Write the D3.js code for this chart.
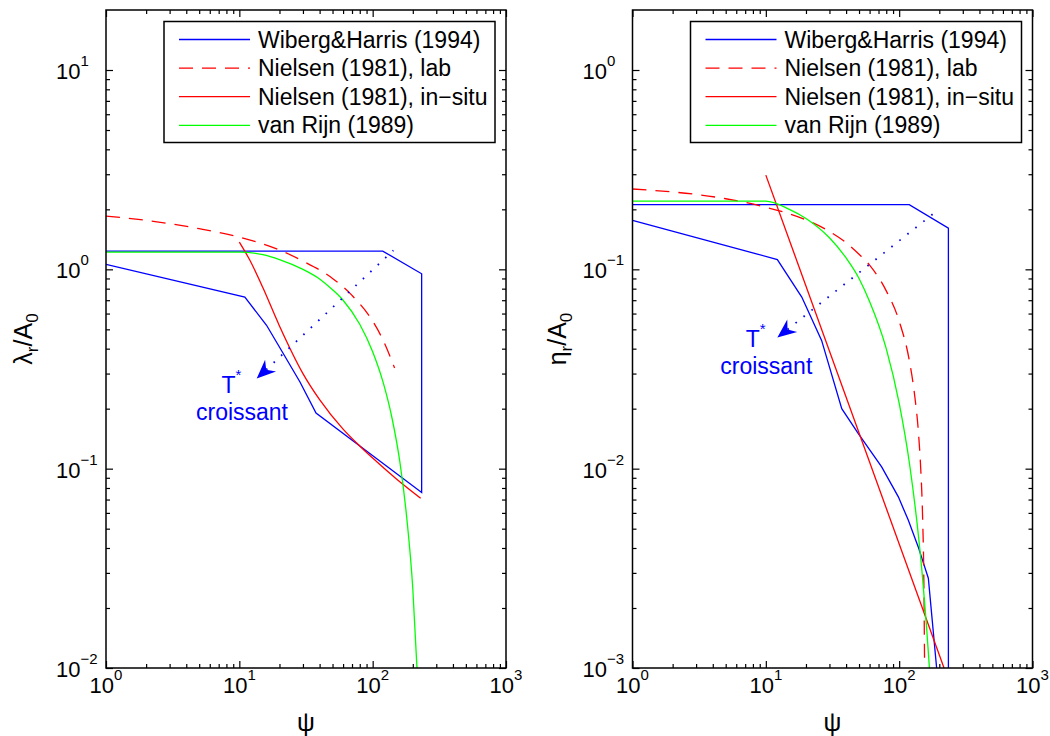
<!DOCTYPE html>
<html>
<head>
<meta charset="utf-8">
<script src="https://cdn.jsdelivr.net/npm/d3@7"></script>
<style>
  body { margin: 0; background: #fff; }
  text { font-family: "Liberation Sans", Arial, Helvetica, sans-serif; fill: #000; }
  .tick text { display: none; }
  .domain { display: none; }
</style>
</head>
<body>
<svg id="fig" width="1050" height="736"></svg>
<script>
// ---- data ----
const seriesNames = ["Wiberg&Harris (1994)", "Nielsen (1981), lab", "Nielsen (1981), in\u2212situ", "van Rijn (1989)"];
const seriesColors = ["#0000ff", "#ff0000", "#ff0000", "#00ff00"];
const seriesDash = [null, "14,9", null, null];

const xDomain = [1, 1000];
const xTickExponents = [0, 1, 2, 3];
const lambdaDomain = [0.01, 20];
const lambdaTickExponents = [-2, -1, 0, 1];
const etaDomain = [0.001, 2];
const etaTickExponents = [-3, -2, -1, 0];

// ripple length  lambda_r / A_0
const whLambdaPsi = [1, 11, 16, 21.4, 28.5, 37.6, 233, 233, 119, 1];
const whLambda    = [1.06, 0.726, 0.524, 0.377, 0.272, 0.19, 0.076, 0.95, 1.235, 1.235];
const nlLambdaPsi = [1, 2, 5, 10, 20, 30, 50, 70, 100, 120, 146];
const nlLambda    = [1.85, 1.76, 1.60, 1.45, 1.25, 1.10, 0.90, 0.74, 0.55, 0.44, 0.32];
const nfLambdaPsi = [10, 12, 15, 20, 30, 40, 60, 80, 100, 150, 229];
const nfLambda    = [1.37, 1.11, 0.81, 0.52, 0.30, 0.222, 0.158, 0.13, 0.113, 0.089, 0.071];
const vrLambdaPsi = [1, 10, 15, 20, 30, 40, 50, 60, 80, 100, 120, 140, 160, 180, 200, 216];
const vrLambda    = [1.22, 1.22, 1.185, 1.12, 1.0, 0.895, 0.79, 0.70, 0.53, 0.386, 0.27, 0.178, 0.108, 0.057, 0.025, 0.0094];

// ripple height  eta_r / A_0   (null = pen up)
const whEtaPsi = [1, 12.2, 18.6, 26.2, 37.1, 49.4, 73.9, 98.6, 117, 139, 165.5, 191, null, 1, 119, 234, 234];
const whEta    = [0.176, 0.112, 0.0726, 0.044, 0.020, 0.015, 0.0102, 0.00722, 0.00552, 0.00405, 0.00282, 0.001, null, 0.211, 0.211, 0.161, 0.001];
const nlEtaPsi = [1, 5, 10, 20, 30, 40, 50, 60, 80, 100, 120, 130, 140, 145, 150, 153, 155];
const nlEta    = [0.253, 0.226, 0.205, 0.177, 0.155, 0.136, 0.119, 0.105, 0.078, 0.055, 0.034, 0.024, 0.0147, 0.0101, 0.0056, 0.0029, 0.0011];
const nfEtaPsi = [10, 217];
const nfEta    = [0.297, 0.001];
const vrEtaPsi = [1, 10, 15, 20, 30, 40, 50, 60, 80, 100, 120, 140, 150, 160, 169];
const vrEta    = [0.22, 0.22, 0.20, 0.18, 0.144, 0.114, 0.090, 0.069, 0.040, 0.0213, 0.0104, 0.0045, 0.0028, 0.00165, 0.00098];

// "T* croissant" arrow: tip, end of dotted line, label centre
const lambdaArrow = { tip: [13.5, 0.283], end: [143, 1.245], label: [10.47, 0.175] };
const etaArrow    = { tip: [12.2, 0.0455], end: [191, 0.196], label: [10.08, 0.030] };

// ---- layout ----
const svg = d3.select("#fig");
svg.append("rect").attr("width", 1050).attr("height", 736).attr("fill", "#fff");
const plotTop = 10, plotBottom = 668, plotWidth = 400;
const zip = (a, b) => a.map((v, i) => [v, b[i]]);

const panels = [
  {
    id: "l", left: 106, yDomain: lambdaDomain, yExp: lambdaTickExponents,
    yLabel: ["\u03bb", "r", "/A", "0"], yLabelX: 32, arrow: lambdaArrow,
    series: [zip(whLambdaPsi, whLambda), zip(nlLambdaPsi, nlLambda), zip(nfLambdaPsi, nfLambda), zip(vrLambdaPsi, vrLambda)]
  },
  {
    id: "r", left: 632.5, yDomain: etaDomain, yExp: etaTickExponents,
    yLabel: ["\u03b7", "r", "/A", "0"], yLabelX: 566, arrow: etaArrow,
    series: [zip(whEtaPsi, whEta), zip(nlEtaPsi, nlEta), zip(nfEtaPsi, nfEta), zip(vrEtaPsi, vrEta)]
  }
];

function minorTicks(domain) {
  const out = [];
  const e0 = Math.floor(Math.log10(domain[0])), e1 = Math.ceil(Math.log10(domain[1]));
  for (let e = e0; e <= e1; e++)
    for (let k = 2; k <= 9; k++) {
      const v = k * Math.pow(10, e);
      if (v > domain[0] && v < domain[1]) out.push(v);
    }
  return out;
}

function expLabel(sel, e) {
  sel.append("tspan").text("10");
  sel.append("tspan").attr("dy", -13).attr("font-size", 15).text(String(e).replace("-", "\u2212"));
}

panels.forEach(p => {
  const x = d3.scaleLog().domain(xDomain).range([p.left, p.left + plotWidth]);
  const y = d3.scaleLog().domain(p.yDomain).range([plotBottom, plotTop]);
  const g = svg.append("g");

  const clipId = "clip-" + p.id;
  svg.append("clipPath").attr("id", clipId).append("rect")
    .attr("x", p.left).attr("y", plotTop).attr("width", plotWidth).attr("height", plotBottom - plotTop);

  // ticks, inside on all four sides
  const xMajor = xTickExponents.map(e => Math.pow(10, e));
  const yMajor = p.yExp.map(e => Math.pow(10, e));
  const xMinor = minorTicks(xDomain), yMinor = minorTicks(p.yDomain);
  const axes = [
    [d3.axisBottom(x), `translate(0,${plotBottom})`, xMajor, xMinor],
    [d3.axisTop(x), `translate(0,${plotTop})`, xMajor, xMinor],
    [d3.axisLeft(y), `translate(${p.left},0)`, yMajor, yMinor],
    [d3.axisRight(y), `translate(${p.left + plotWidth},0)`, yMajor, yMinor]
  ];
  axes.forEach(([ax, tr, maj, min]) => {
    g.append("g").attr("transform", tr).call(ax.tickValues(maj).tickSize(-7).tickFormat(""))
      .selectAll("line").attr("stroke-width", 1.2);
    g.append("g").attr("transform", tr).call(ax.tickValues(min).tickSize(-4).tickFormat(""))
      .selectAll("line").attr("stroke-width", 1.2);
  });

  // curves
  const curves = g.append("g").attr("clip-path", `url(#${clipId})`);
  p.series.forEach((pts, i) => {
    const line = d3.line()
      .defined(d => d[0] != null)
      .x(d => x(d[0])).y(d => y(d[1]))
      .curve(i === 0 || pts.length < 3 ? d3.curveLinear : d3.curveMonotoneX);
    curves.append("path").attr("d", line(pts))
      .attr("fill", "none").attr("stroke", seriesColors[i]).attr("stroke-width", 1.3)
      .attr("stroke-dasharray", seriesDash[i]);
  });

  // dotted arrow + annotation
  const a = p.arrow;
  const tip = [x(a.tip[0]), y(a.tip[1])], end = [x(a.end[0]), y(a.end[1])];
  const len = Math.hypot(end[0] - tip[0], end[1] - tip[1]);
  const u = [(end[0] - tip[0]) / len, (end[1] - tip[1]) / len], n = [-u[1], u[0]];
  const L = 19, Wd = 8, N = 13;
  curves.append("line")
    .attr("x1", tip[0] + u[0] * N).attr("y1", tip[1] + u[1] * N)
    .attr("x2", end[0]).attr("y2", end[1])
    .attr("stroke", "#0000ff").attr("stroke-width", 1.8).attr("stroke-dasharray", "1.6,8.6");
  const head = [
    tip,
    [tip[0] + u[0] * L + n[0] * Wd, tip[1] + u[1] * L + n[1] * Wd],
    [tip[0] + u[0] * N, tip[1] + u[1] * N],
    [tip[0] + u[0] * L - n[0] * Wd, tip[1] + u[1] * L - n[1] * Wd]
  ];
  g.append("path").attr("d", "M" + head.join("L") + "Z").attr("fill", "#0000ff");
  const lx = x(a.label[0]), ly = y(a.label[1]);
  const tt = g.append("text").attr("x", lx - 20.5).attr("y", ly - 27).attr("font-size", 23).style("fill", "#0000ff");
  tt.append("tspan").text("T");
  tt.append("tspan").attr("dy", -13).attr("font-size", 15).text("*");
  g.append("text").attr("x", lx).attr("y", ly).attr("text-anchor", "middle")
    .attr("font-size", 23).style("fill", "#0000ff").text("croissant");

  // box
  g.append("rect").attr("x", p.left).attr("y", plotTop).attr("width", plotWidth).attr("height", plotBottom - plotTop)
    .attr("fill", "none").attr("stroke", "#000").attr("stroke-width", 1.5);

  // tick labels
  xTickExponents.forEach(e => {
    g.append("text").attr("x", x(Math.pow(10, e))).attr("y", 693).attr("text-anchor", "middle")
      .attr("font-size", 22).call(expLabel, e);
  });
  p.yExp.forEach(e => {
    const t = g.append("text").attr("x", p.left - 50).attr("y", y(Math.pow(10, e)) + 9).attr("font-size", 22);
    expLabel(t, e);
  });

  // axis labels
  g.append("text").attr("x", p.left + plotWidth / 2).attr("y", 731).attr("text-anchor", "middle")
    .attr("font-size", 25).text("\u03c8");
  const yl = g.append("text").attr("transform", `translate(${p.yLabelX},${(plotTop + plotBottom) / 2}) rotate(-90)`)
    .attr("text-anchor", "middle").attr("font-size", 25);
  yl.append("tspan").text(p.yLabel[0]);
  yl.append("tspan").attr("dy", 6).attr("font-size", 17).text(p.yLabel[1]);
  yl.append("tspan").attr("dy", -6).text(p.yLabel[2]);
  yl.append("tspan").attr("dy", 6).attr("font-size", 17).text(p.yLabel[3]);

  // legend
  const bx = p.left + plotWidth - 11 - 331, by = 21.5;
  const lg = g.append("g");
  lg.append("rect").attr("x", bx).attr("y", by).attr("width", 331).attr("height", 121)
    .attr("fill", "#fff").attr("stroke", "#000").attr("stroke-width", 1.5);
  seriesNames.forEach((name, i) => {
    const ry = by + 18 + i * 28.6;
    lg.append("line").attr("x1", bx + 15).attr("x2", bx + 86).attr("y1", ry).attr("y2", ry)
      .attr("stroke", seriesColors[i]).attr("stroke-width", 1.3).attr("stroke-dasharray", seriesDash[i]);
    lg.append("text").attr("x", bx + 94).attr("y", ry + 8).attr("font-size", 23).text(name);
  });
});
</script>
</body>
</html>
